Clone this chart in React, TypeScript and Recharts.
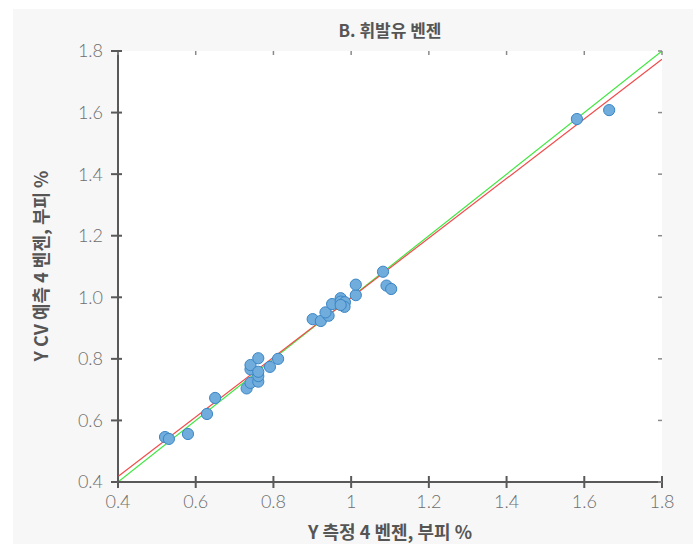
import React from "react";
import { ScatterChart, Scatter, XAxis, YAxis, CartesianGrid } from "recharts";

// measured vs predicted benzene (vol %)
const measured = [
  0.521, 0.531, 0.58, 0.629, 0.65, 0.731, 0.741, 0.761, 0.761, 0.741, 0.741,
  0.761, 0.761, 0.791, 0.812, 0.901, 0.922, 0.942, 0.934, 0.951, 0.973, 0.973,
  0.984, 0.983, 0.973, 1.012, 1.012, 1.082, 1.091, 1.103, 1.581, 1.664,
];
const predicted = [
  0.546, 0.54, 0.556, 0.621, 0.673, 0.704, 0.722, 0.726, 0.744, 0.766, 0.78,
  0.758, 0.802, 0.774, 0.8, 0.929, 0.923, 0.94, 0.951, 0.978, 0.997, 0.986,
  0.984, 0.969, 0.975, 1.007, 1.041, 1.083, 1.038, 1.027, 1.579, 1.608,
];

const identityLine = [
  { x: 0.4, y: 0.4 },
  { x: 1.8, y: 1.8 },
];
const fitLine = [
  { x: 0.4, y: 0.418 },
  { x: 1.8, y: 1.773 },
];

const xTicks = [0.4, 0.6, 0.8, 1, 1.2, 1.4, 1.6, 1.8];
const yTicks = [0.4, 0.6, 0.8, 1.0, 1.2, 1.4, 1.6, 1.8];

const points = measured.map((x, i) => ({ x, y: predicted[i] }));

const W = 699;
const H = 547;
const PLOT_LEFT = 118;
const PLOT_RIGHT = 662;
const PLOT_TOP = 51;
const PLOT_BOTTOM = 482;

const AXIS = "#595959";
const TICK_FONT = { fontFamily: "Lato, 'Liberation Sans', sans-serif", fontWeight: 300, fontSize: 18, fill: "#6e6e6e" };
const LABEL_FONT = "'Noto Sans CJK KR', 'Noto Sans', sans-serif";

const YTick = (props: any) => {
  const { x, y, payload } = props;
  return (
    <g>
      <line x1={PLOT_LEFT - 7} x2={PLOT_LEFT + 4} y1={y} y2={y} stroke={AXIS} strokeWidth={2} />
      <line x1={PLOT_RIGHT - 4} x2={PLOT_RIGHT} y1={y} y2={y} stroke="#8a8a8a" strokeWidth={1.5} />
      <text x={x} y={y} dy="0.36em" textAnchor="end" {...TICK_FONT}>
        {Number(payload.value).toFixed(1)}
      </text>
    </g>
  );
};

const XTick = (props: any) => {
  const { x, y, payload } = props;
  return (
    <g>
      <line x1={x} x2={x} y1={PLOT_BOTTOM - 6} y2={PLOT_BOTTOM + 6} stroke={AXIS} strokeWidth={2} />
      <line x1={x} x2={x} y1={PLOT_TOP} y2={PLOT_TOP + 4} stroke="#8a8a8a" strokeWidth={1.5} />
      <text x={x} y={y} dy="0.71em" textAnchor="middle" {...TICK_FONT}>
        {String(payload.value)}
      </text>
    </g>
  );
};

const Dot = (props: any) => (
  <circle cx={props.cx} cy={props.cy} r={5.6} fill="#70acdc" stroke="#3a86c6" strokeWidth={1} />
);

const NoDot = () => <g />;

export default function App() {
  return (
    <div style={{ position: "absolute", left: 0, top: 0, width: W, height: H, background: "#fff" }}>
      <div
        style={{ position: "absolute", left: 13, top: 9, width: 680, height: 535, background: "#f7f7f7" }}
      />
      <div style={{ position: "absolute", left: 0, top: 0 }}>
        <ScatterChart
          width={W}
          height={H}
          margin={{ left: PLOT_LEFT - 60, right: W - PLOT_RIGHT, top: PLOT_TOP, bottom: H - PLOT_BOTTOM - 30 }}
        >
          <CartesianGrid fill="#ffffff" stroke="none" horizontal={false} vertical={false} />
          <XAxis
            type="number"
            dataKey="x"
            domain={[0.4, 1.8]}
            ticks={xTicks}
            allowDataOverflow
            height={30}
            tickSize={6}
            tickMargin={7}
            tickLine={false}
            axisLine={{ stroke: AXIS, strokeWidth: 2 }}
            tick={<XTick />}
            interval={0}
          />
          <YAxis
            type="number"
            dataKey="y"
            domain={[0.4, 1.8]}
            ticks={yTicks}
            allowDataOverflow
            width={60}
            tickSize={7}
            tickMargin={8}
            tickLine={false}
            axisLine={{ stroke: AXIS, strokeWidth: 2 }}
            tick={<YTick />}
            interval={0}
          />
          <Scatter
            data={identityLine}
            line={{ stroke: "#3ee83e", strokeWidth: 1.2 }}
            shape={NoDot}
            isAnimationActive={false}
          />
          <Scatter
            data={fitLine}
            line={{ stroke: "#f24a4a", strokeWidth: 1.2 }}
            shape={NoDot}
            isAnimationActive={false}
          />
          <Scatter data={points} shape={Dot} isAnimationActive={false} />
        </ScatterChart>
      </div>
      <div
        style={{
          position: "absolute",
          left: PLOT_LEFT,
          width: PLOT_RIGHT - PLOT_LEFT,
          top: 18,
          textAlign: "center",
          fontFamily: LABEL_FONT,
          fontWeight: 700,
          fontSize: 17,
          color: "#555",
          lineHeight: "24px",
        }}
      >
        B. 휘발유 벤젠
      </div>
      <div
        style={{
          position: "absolute",
          left: PLOT_LEFT,
          width: PLOT_RIGHT - PLOT_LEFT,
          top: 518,
          textAlign: "center",
          fontFamily: LABEL_FONT,
          fontWeight: 700,
          fontSize: 18,
          color: "#555",
          lineHeight: "26px",
        }}
      >
        Y 측정 4 벤젠, 부피 %
      </div>
      <div
        style={{
          position: "absolute",
          left: 40 - 150,
          top: 266 - 13,
          width: 300,
          textAlign: "center",
          transform: "rotate(-90deg)",
          fontFamily: LABEL_FONT,
          fontWeight: 700,
          fontSize: 18,
          color: "#555",
          lineHeight: "26px",
        }}
      >
        Y CV 예측 4 벤젠, 부피 %
      </div>
    </div>
  );
}
